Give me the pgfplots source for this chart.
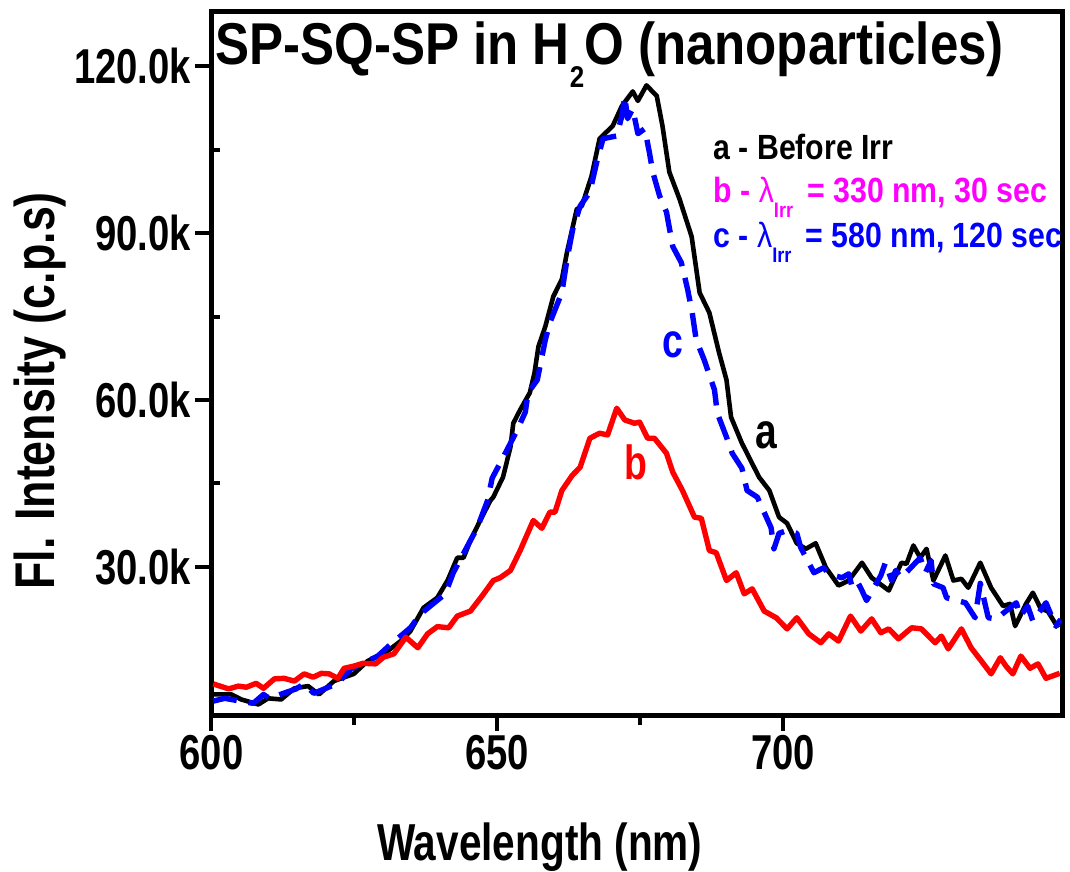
\documentclass[border=0pt]{standalone}
\usepackage{fontspec}
\setmainfont{Liberation Sans}
\newfontfamily\condfont[FakeStretch=0.78]{Liberation Sans}
\newfontfamily\ylabfont[FakeStretch=0.80]{Liberation Sans}
\newfontfamily\titlefont[FakeStretch=0.865]{Liberation Sans}
\newfontfamily\legfont[FakeStretch=0.865]{Liberation Sans}
\usepackage{pgfplots}
\pgfplotsset{compat=1.18}
\definecolor{cblue}{RGB}{0,0,255}
\definecolor{cred}{RGB}{255,0,0}
\definecolor{cmag}{RGB}{255,0,255}

\pgfplotstableread{
x y
600.3 7.0
603.5 7.0
605.2 6.1
608.2 5.2
609.9 6.3
612.2 6.1
614.5 8.1
616.9 8.5
618.8 7.0
621.4 9.4
624.9 10.7
627.3 13.0
630.8 14.8
633.1 16.6
634.8 18.4
637.1 22.6
639.5 24.4
641.3 27.5
643.0 31.6
644.1 31.6
645.3 34.7
647.0 38.3
648.8 41.9
649.3 42.5
651.0 46.1
652.3 51.5
652.8 55.8
654.0 58.2
655.7 61.3
656.5 64.8
657.2 69.6
658.4 73.2
659.8 78.6
661.3 81.7
662.2 86.6
663.9 94.3
664.8 94.9
666.5 100.3
667.9 107.0
670.2 109.3
671.8 112.9
673.7 115.5
674.6 113.8
676.1 116.6
677.9 114.7
678.9 109.3
680.1 101.0
681.9 96.1
684.0 89.4
685.4 79.3
687.1 75.7
688.8 68.5
690.1 63.6
690.9 56.9
692.8 52.2
695.8 46.1
697.6 43.7
699.3 38.9
700.7 37.8
702.4 34.2
704.0 33.2
705.7 34.2
707.5 29.8
709.7 26.6
711.5 27.5
713.8 30.7
715.5 28.0
718.5 25.7
720.7 30.7
721.6 30.5
722.8 33.8
724.0 31.6
725.1 33.2
726.3 27.5
728.4 32.0
729.8 27.5
731.2 27.8
732.4 26.2
734.5 30.7
736.4 26.2
738.5 22.9
739.7 23.3
740.6 19.3
742.5 23.3
743.7 25.3
745.1 22.4
746.3 22.0
748.1 19.0
}\dataA

\pgfplotstableread{
x y
600.3 8.9
603.0 8.0
604.7 8.5
606.1 8.3
607.8 9.0
609.1 8.1
611.0 9.8
612.7 9.9
614.5 9.4
616.2 10.7
617.8 10.1
619.2 10.8
620.6 10.7
622.1 9.9
623.2 11.7
624.9 12.1
626.5 12.6
628.7 12.5
630.1 13.7
631.9 14.3
634.0 17.3
636.1 15.4
637.8 17.9
639.5 19.2
641.5 19.0
643.0 21.1
645.3 22.0
647.4 24.8
649.3 27.5
650.5 28.0
652.3 29.3
654.0 32.9
656.3 38.3
657.8 36.9
659.2 39.8
660.1 39.8
661.3 43.7
663.1 46.4
664.5 47.9
666.2 53.1
667.9 54.0
669.3 53.7
670.9 58.5
672.3 56.4
674.0 55.8
674.9 56.0
676.3 53.1
677.5 53.1
679.6 50.4
680.7 47.0
682.4 43.7
684.5 38.9
685.7 38.7
687.1 32.9
688.3 32.5
690.1 27.5
691.8 28.9
693.2 25.1
694.6 26.0
696.7 22.0
698.8 20.8
700.7 18.8
702.4 20.8
704.5 17.9
706.6 16.3
708.0 17.9
709.7 16.6
711.8 21.1
713.6 18.4
715.5 20.6
717.1 18.1
718.5 18.8
720.2 17.0
722.5 19.0
724.2 18.8
726.6 16.3
727.7 17.5
728.9 15.2
731.2 18.8
732.9 15.4
734.7 13.0
736.4 10.7
738.0 13.6
739.0 12.1
740.2 10.7
741.6 13.9
743.2 11.7
744.6 12.5
746.0 9.9
748.4 10.8
}\dataB

\pgfplotstableread{
x y
600.3 5.8
602.3 6.3
607.3 5.4
609.1 7.0
610.1 6.3
614.8 8.0
616.2 8.9
617.9 7.2
622.1 9.0
624.4 11.6
629.1 13.9
631.0 15.7
634.8 19.0
636.6 21.5
640.9 25.1
642.3 28.9
645.3 34.7
646.5 37.0
648.3 41.9
649.1 45.9
651.7 51.0
653.5 54.6
654.9 57.8
655.4 61.3
657.0 63.6
658.4 70.8
659.2 73.9
661.3 79.3
662.2 85.3
663.2 90.7
664.5 94.9
666.2 97.4
667.4 102.8
668.5 107.0
670.9 107.5
671.8 111.1
672.3 114.6
672.8 110.6
673.7 112.4
674.6 107.9
675.8 108.8
676.6 104.6
677.2 101.0
678.4 96.7
679.6 93.8
680.7 87.6
682.2 84.7
683.3 79.9
684.1 75.7
684.8 70.8
686.2 67.2
688.0 61.8
688.5 57.6
690.1 53.3
691.1 50.4
692.8 47.7
693.7 43.7
695.5 42.5
697.9 37.0
698.4 33.2
699.3 36.0
700.7 36.5
702.4 36.0
703.1 33.4
705.4 28.9
707.1 29.8
708.0 28.7
710.3 28.0
711.5 28.7
712.0 26.6
712.9 27.5
713.8 25.7
714.6 23.9
717.1 28.4
717.9 30.7
719.0 27.5
719.7 29.3
720.7 28.0
724.0 31.6
724.9 28.9
725.9 31.1
726.3 26.9
728.0 26.2
728.6 24.4
731.9 23.5
733.6 20.8
734.5 27.0
735.9 20.8
737.3 20.6
740.8 23.5
741.5 21.1
742.8 22.9
743.7 20.2
746.0 23.5
747.7 19.3
748.6 20.5
}\dataC

\begin{document}
\begin{tikzpicture}
\begin{axis}[
  scale only axis,
  width=425.25pt, height=351.5pt,
  xmin=600, xmax=748.8,
  ymin=3.3, ymax=129.8,
  xtick={600,650,700},
  xticklabels={600,650,700},
  minor x tick num=1,
  ytick={30,60,90,120},
  yticklabels={30.0k,60.0k,90.0k,120.0k},
  minor y tick num=1,
  xtick pos=bottom, ytick pos=left,
  tick align=outside,
  major tick length=8pt,
  minor tick length=5pt,
  every tick/.style={black, line width=2pt},
  minor y tick style={xshift=4.5pt},
  axis line style={line width=2.5pt},
  tick label style={font=\condfont\bfseries\fontsize{24.5}{28}\selectfont},
  xticklabel style={inner sep=2pt},
  yticklabel style={inner sep=2pt},
  xlabel={Wavelength (nm)},
  xlabel style={font=\condfont\bfseries\fontsize{26}{30}\selectfont, at={(axis description cs:0.386,0)}, anchor=base, yshift=-72.5pt},
  ylabel={Fl. Intensity (c.p.s)},
  ylabel style={font=\ylabfont\bfseries\fontsize{28}{32}\selectfont, at={(axis description cs:-0.184,0.461)}, anchor=base},
  clip=true,
]
\addplot[black, line width=2.3pt, line join=round] table[x=x,y=y] {\dataA};
\addplot[cblue, line width=2.7pt, dash pattern=on 12pt off 6pt, line join=round] table[x=x,y=y] {\dataC};
\addplot[cred, line width=2.7pt, line join=round] table[x=x,y=y] {\dataB};

\node[anchor=base west, inner sep=0pt, font=\titlefont\bfseries\fontsize{29.5}{32}\selectfont] at (rel axis cs:0.004,0.9246)
  {SP-SQ-SP in H\raisebox{-0.375em}{\fontsize{15}{15}\selectfont 2}O (nanoparticles)};

\node[anchor=base west, inner sep=0pt, font=\legfont\bfseries\fontsize{17.5}{20}\selectfont, text=black] at (rel axis cs:0.5897,0.7895)
  {a - Before Irr};
\node[anchor=base west, inner sep=0pt, font=\legfont\bfseries\fontsize{17.5}{20}\selectfont, text=cmag] at (rel axis cs:0.5897,0.7283)
  {b - {\mdseries λ}\raisebox{-7.5pt}{\fontsize{10.5}{11}\selectfont Irr}\, = 330 nm, 30 sec};
\node[anchor=base west, inner sep=0pt, font=\legfont\bfseries\fontsize{17.5}{20}\selectfont, text=cblue] at (rel axis cs:0.5897,0.6657)
  {c - {\mdseries λ}\raisebox{-7.5pt}{\fontsize{10.5}{11}\selectfont Irr}\, = 580 nm, 120 sec};

\node[font=\condfont\bfseries\fontsize{24}{28}\selectfont, text=cblue] at (axis cs:680.7,69.9) {c};
\node[font=\condfont\bfseries\fontsize{25}{28}\selectfont, text=black] at (axis cs:697.1,53.7) {a};
\node[font=\condfont\bfseries\fontsize{24}{28}\selectfont, text=cred] at (axis cs:674.3,48.7) {b};

\coordinate (ll) at (rel axis cs:0,0);
\coordinate (ur) at (rel axis cs:1,1);
\end{axis}
\pgfresetboundingbox
\path ([xshift=-105.75pt,yshift=-78.5pt]ll) rectangle ([xshift=4pt,yshift=6pt]ur);
\end{tikzpicture}
\end{document}
